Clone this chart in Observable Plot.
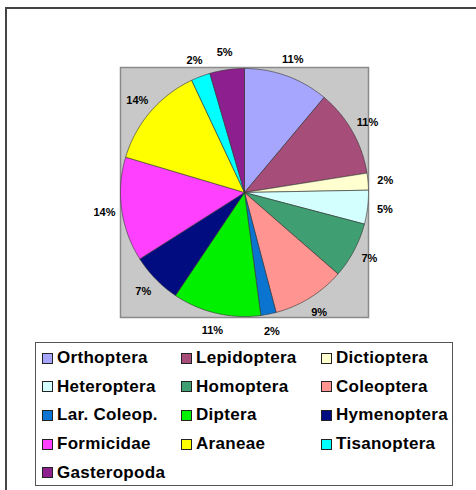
<!DOCTYPE html>
<html>
<head>
<meta charset="utf-8">
<script src="https://cdn.jsdelivr.net/npm/d3@7"></script>
<script src="https://cdn.jsdelivr.net/npm/@observablehq/plot@0.6"></script>
<style>
  html, body { margin: 0; padding: 0; background: #fff; width: 476px; height: 490px; overflow: hidden; }
  #frame { position: absolute; left: 5px; top: 7px; width: 500px; height: 500px; border-left: 2px solid #444; border-top: 2px solid #444; }
  #chart { position: absolute; left: 0; top: 0; }
  #legend { position: absolute; left: 35px; top: 342px; width: 418px; height: 144px; border: 1px solid #555; background: #fff; box-sizing: border-box; }
  .item { position: absolute; height: 20px; display: flex; align-items: center; font-family: "Liberation Sans", Arial, sans-serif; font-weight: bold; font-size: 17px; letter-spacing: 0.3px; color: #000; white-space: nowrap; }
  .sw { width: 9px; height: 9px; border: 1px solid #222; margin-right: 4px; flex: none; }
</style>
</head>
<body>
<div id="frame"></div>
<div id="chart"></div>
<div id="legend"></div>
<script>
// Categories in drawing order (clockwise from 12 o'clock)
const categories = ["Orthoptera", "Lepidoptera", "Dictioptera", "Heteroptera", "Homoptera", "Coleoptera",
  "Lar. Coleop.", "Diptera", "Hymenoptera", "Formicidae", "Araneae", "Tisanoptera", "Gasteropoda"];
// Slice shares (percent)
const values = [11.1, 11.4, 2.2, 4.4, 7.3, 9.5, 2.0, 11.5, 6.6, 13.6, 13.4, 2.5, 4.5];
// Data labels as printed on the chart
const labels = ["11%", "11%", "2%", "5%", "7%", "9%", "2%", "11%", "7%", "14%", "14%", "2%", "5%"];
const colors = ["#A6A6FF", "#A64D79", "#FFFFD0", "#D4FFFF", "#3F9F72", "#FF9490",
  "#0A74D0", "#00F000", "#000C80", "#FF40FF", "#FFFF00", "#00FFFF", "#8E1F8E"];

const rows = categories.map((name, i) => ({name, value: values[i], label: labels[i]}));
const arcs = d3.pie().sort(null).value(d => d.value)(rows);

// polygon vertices of each slice in unit coordinates (angle 0 = north, clockwise)
const pts = [];
for (const a of arcs) {
  const n = Math.max(2, Math.ceil((a.endAngle - a.startAngle) / (Math.PI / 180)));
  pts.push({name: a.data.name, x: 0, y: 0});
  for (let k = 0; k <= n; k++) {
    const t = a.startAngle + (a.endAngle - a.startAngle) * k / n;
    pts.push({name: a.data.name, x: Math.sin(t), y: Math.cos(t)});
  }
  pts.push({name: a.data.name, x: 0, y: 0});
}
const labelR = 1.14;
const labelPts = arcs.map(a => {
  const m = (a.startAngle + a.endAngle) / 2;
  return {label: a.data.label, x: labelR * Math.sin(m), y: labelR * Math.cos(m)};
});

const plot = Plot.plot({
  width: 476,
  height: 335,
  marginLeft: 120,
  marginRight: 108,
  marginTop: 67,
  marginBottom: 18,
  x: {domain: [-1, 1], axis: null},
  y: {domain: [-1.008, 1.008], axis: null},
  color: {domain: categories, range: colors},
  style: {background: "transparent", overflow: "visible"},
  marks: [
    Plot.frame({fill: "#C8C8C8", stroke: "#8A8A8A", strokeWidth: 1.5}),
    Plot.line(pts, {x: "x", y: "y", z: "name", fill: "name", stroke: "#333", strokeWidth: 0.6, strokeLinejoin: "round"}),
    Plot.text(labelPts, {x: "x", y: "y", text: "label", fontFamily: "Liberation Sans, Arial, sans-serif", fontWeight: "bold", fontSize: 11, fill: "#000"})
  ]
});
document.getElementById("chart").appendChild(plot);

// Legend (HTML, 3 columns)
const legend = document.getElementById("legend");
const colX = [6, 145, 285];
categories.forEach((name, i) => {
  const c = i % 3, r = Math.floor(i / 3);
  const el = document.createElement("div");
  el.className = "item";
  el.style.left = colX[c] + "px";
  el.style.top = (15 - 10 + r * 28.7) + "px";
  const sw = document.createElement("span");
  sw.className = "sw";
  sw.style.background = colors[i];
  el.appendChild(sw);
  el.appendChild(document.createTextNode(name));
  legend.appendChild(el);
});
</script>
</body>
</html>
